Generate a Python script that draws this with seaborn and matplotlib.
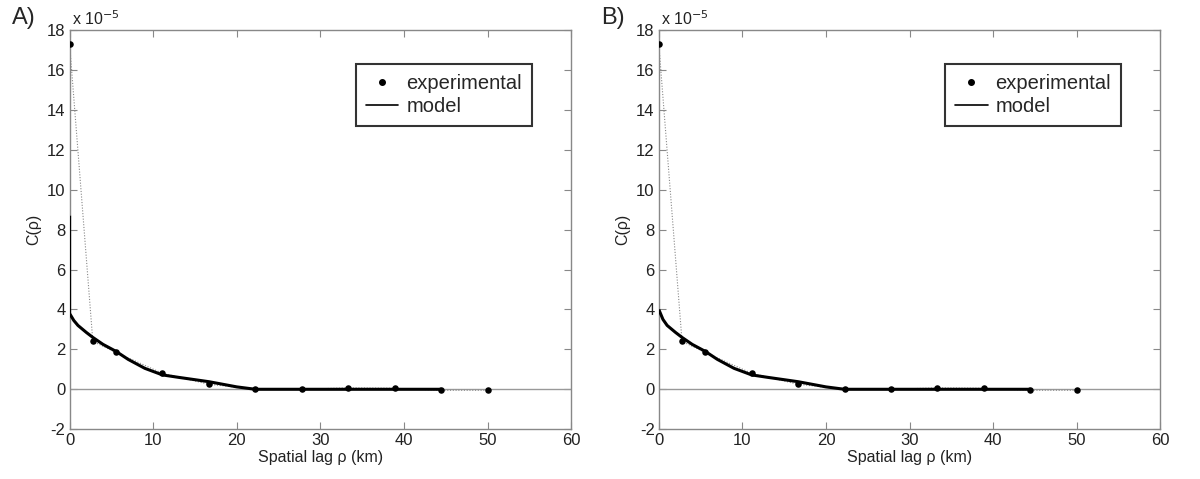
import matplotlib
matplotlib.use("Agg")
import matplotlib.pyplot as plt
import seaborn as sns
import pandas as pd
from matplotlib.lines import Line2D

sns.set_theme(style="white")
plt.rcParams['font.family'] = ['Liberation Sans', 'DejaVu Sans']

# experimental covariance (units of 1e-5)
lag_exp = [0.0, 2.78, 5.56, 11.11, 16.67, 22.22, 27.78, 33.33, 38.89, 44.44, 50.0]
cov_exp = [17.3, 2.4, 1.85, 0.8, 0.25, 0.0, 0.0, 0.07, 0.05, -0.05, -0.05]

# model curves (units of 1e-5)
lag_model_a = [0.0, 0.0, 0.5, 1.0, 2.0, 2.78, 4.0, 5.56, 7.0, 9.0, 11.11, 13.0, 16.67, 20.0, 22.22, 30.0, 44.44]
cov_model_a = [8.7, 3.8, 3.45, 3.2, 2.85, 2.6, 2.25, 1.9, 1.5, 1.05, 0.72, 0.6, 0.38, 0.12, 0.0, 0.0, 0.0]
lag_model_b = [0.0, 0.5, 1.0, 2.0, 2.78, 4.0, 5.56, 7.0, 9.0, 11.11, 13.0, 16.67, 20.0, 22.22, 30.0, 44.44]
cov_model_b = [4.0, 3.5, 3.2, 2.85, 2.6, 2.25, 1.9, 1.5, 1.05, 0.72, 0.6, 0.38, 0.12, 0.0, 0.0, 0.0]

x_ticks = [0, 10, 20, 30, 40, 50, 60]
y_ticks = [-2, 0, 2, 4, 6, 8, 10, 12, 14, 16, 18]
panel_labels = ["A)", "B)"]

fig = plt.figure(figsize=(12, 4.79), dpi=100)
ax_a = fig.add_axes([0.058, 0.104, 0.418, 0.833])
ax_b = fig.add_axes([0.549, 0.104, 0.418, 0.833])

exp_df = pd.DataFrame({"lag": lag_exp, "cov": cov_exp})

for ax, lm, cm, lab in [(ax_a, lag_model_a, cov_model_a, panel_labels[0]),
                        (ax_b, lag_model_b, cov_model_b, panel_labels[1])]:
    ax.axhline(0, color="#999999", lw=1.0, zorder=1)
    ax.plot(lag_exp, cov_exp, ls=(0, (1, 1.5)), color="#888888", lw=0.8, zorder=2)
    ax.plot(lm, cm, color="black", lw=2.2, solid_capstyle="butt", zorder=3)
    sns.scatterplot(data=exp_df, x="lag", y="cov", ax=ax, color="black", s=22,
                    edgecolor="black", linewidth=0, zorder=4, legend=False)
    ax.set_xlim(0, 60)
    ax.set_ylim(-2, 18)
    ax.set_xticks(x_ticks)
    ax.set_yticks(y_ticks)
    ax.set_xticklabels([str(t) for t in x_ticks])
    ax.set_yticklabels([str(t) for t in y_ticks])
    ax.tick_params(direction="in", length=5, width=0.8, color="#888888",
                   labelsize=12, labelcolor="#222222", top=True, right=True,
                   bottom=True, left=True, pad=3)
    for sp in ax.spines.values():
        sp.set_color("#888888")
        sp.set_linewidth(1.0)
    ax.set_xlabel("Spatial lag ρ (km)", fontsize=11.5, color="#222222", labelpad=1)
    ax.set_ylabel("C(ρ)", fontsize=11.5, color="#222222", labelpad=4)
    ax.text(0.005, 1.005, r"x 10$^{-5}$", transform=ax.transAxes, fontsize=11.5,
            color="#222222", ha="left", va="bottom")
    pos = ax.get_position()
    fig.text(pos.x0 - 0.048, 0.985, lab, fontsize=17, ha="left", va="top")
    handles = [Line2D([], [], marker="o", ls="none", color="black", markersize=4),
               Line2D([], [], color="black", lw=1.2)]
    leg = ax.legend(handles, ["experimental", "model"], loc="upper right",
                    bbox_to_anchor=(0.922, 0.915), fontsize=14.5, frameon=True,
                    fancybox=False, edgecolor="black", handlelength=1.6,
                    handletextpad=0.4, borderpad=0.5, labelspacing=0.2,
                    borderaxespad=0)
    leg.get_frame().set_linewidth(1.5)
    ax.grid(False)

fig.savefig("out.png", dpi=100, facecolor="white")
